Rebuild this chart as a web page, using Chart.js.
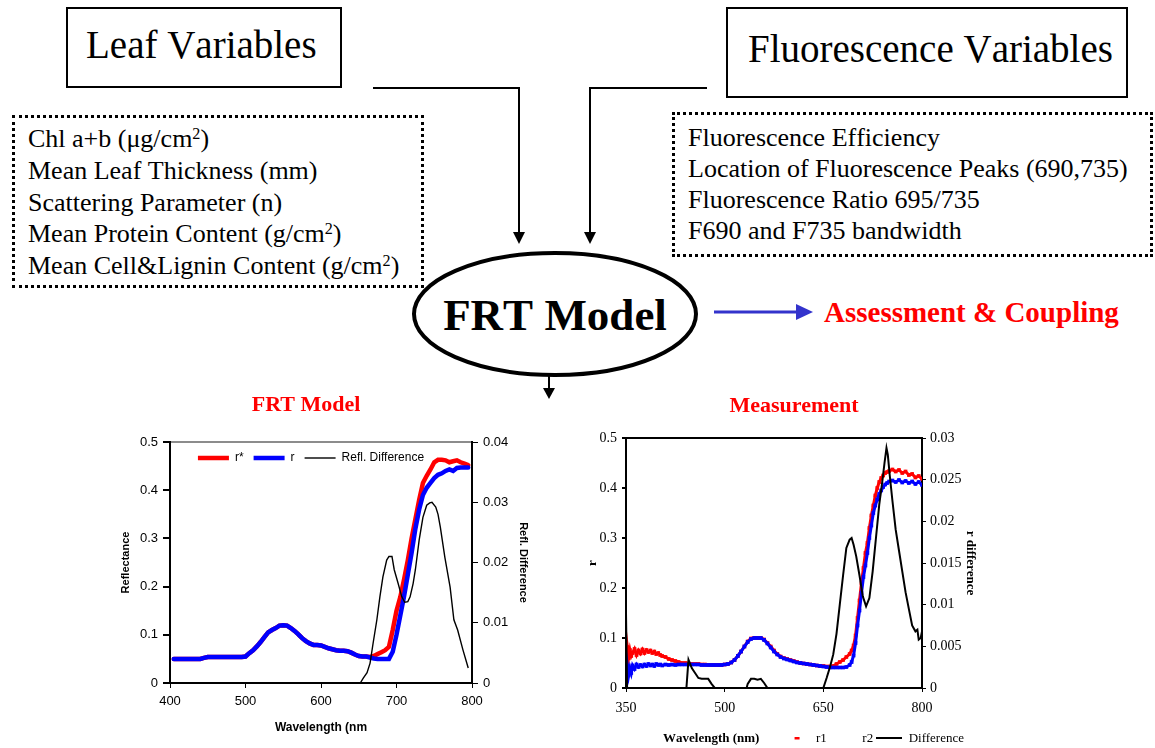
<!DOCTYPE html>
<html>
<head>
<meta charset="utf-8">
<script src="https://cdn.jsdelivr.net/npm/chart.js@4.4.1/dist/chart.umd.min.js"></script>
<style>
  html, body { margin: 0; padding: 0; background: #fff; overflow: hidden; }
  #page { position: relative; width: 1155px; height: 748px; background: #fff; }
  .t { position: absolute; white-space: nowrap; line-height: 1; font-family: "Liberation Serif", "Times New Roman", serif; font-kerning: none; color: #000; }
  .box { position: absolute; box-sizing: border-box; border: 2px solid #000; }
  .dots { position: absolute; box-sizing: border-box; border: 3px dotted #000; }
  .list { position: absolute; white-space: nowrap; font-family: "Liberation Serif", serif; font-size: 26px; font-kerning: none; }
  .list sup { font-size: 0.62em; vertical-align: 0.5em; line-height: 0; }
  .chartbox { position: absolute; }
  svg { position: absolute; left: 0; top: 0; }
</style>
</head>
<body>
<div id="page">
  <svg width="1155" height="748">
    <!-- arrows from the two variable boxes into the model -->
    <polyline points="373,88 519,88 519,234" fill="none" stroke="#000" stroke-width="2"/>
    <polygon points="513,232 525,232 519,244" fill="#000"/>
    <polyline points="707,88 590,88 590,234" fill="none" stroke="#000" stroke-width="2"/>
    <polygon points="584,232 596,232 590,244" fill="#000"/>
    <ellipse cx="555" cy="314" rx="141" ry="61" fill="none" stroke="#000" stroke-width="4"/>
    <line x1="714" y1="312" x2="798" y2="312" stroke="#3333cc" stroke-width="3"/>
    <polygon points="796,304 813,312 796,320" fill="#3333cc"/>
    <line x1="549" y1="376" x2="549" y2="390" stroke="#000" stroke-width="2"/>
    <polygon points="543,388 555,388 549,399" fill="#000"/>
  </svg>

  <div class="box" style="left:66px;top:7px;width:276px;height:81px"></div>
  <div class="t" style="left:86px;top:25.3px;font-size:39px">Leaf Variables</div>
  <div class="box" style="left:726px;top:7px;width:402px;height:91px"></div>
  <div class="t" style="left:748px;top:29.3px;font-size:39px">Fluorescence Variables</div>

  <div class="dots" style="left:12px;top:115px;width:412px;height:173px"></div>
  <div class="list" style="left:28px;top:123px;line-height:31.75px">
    Chl a+b (μg/cm<sup>2</sup>)<br>
    Mean Leaf Thickness (mm)<br>
    Scattering Parameter (n)<br>
    Mean Protein Content (g/cm<sup>2</sup>)<br>
    Mean Cell&amp;Lignin Content (g/cm<sup>2</sup>)
  </div>

  <div class="dots" style="left:672px;top:112px;width:481px;height:145px"></div>
  <div class="list" style="left:688px;top:122px;line-height:31px">
    Fluorescence Efficiency<br>
    Location of Fluorescence Peaks (690,735)<br>
    Fluorescence Ratio 695/735<br>
    F690 and F735 bandwidth
  </div>

  <div class="t" style="left:413px;width:284px;text-align:center;top:293.3px;font-size:45px;font-weight:bold">FRT Model</div>
  <div class="t" style="left:824px;top:297.7px;font-size:29px;font-weight:bold;color:#ff0000">Assessment &amp; Coupling</div>

  <div class="chartbox" style="left:82px;top:390px;width:448px;height:390px"><canvas id="frtChart"></canvas></div>
  <div class="chartbox" style="left:585px;top:390px;width:418px;height:365px"><canvas id="measChart"></canvas></div>
  <div class="t" style="left:663px;top:731px;font-size:13px;font-weight:bold">Wavelength (nm)</div>
</div>

<script>
// ---- FRT Model panel ----
const frtXTicks = [400, 500, 600, 700, 800];
const frtYTicks = [0, 0.1, 0.2, 0.3, 0.4, 0.5];
const frtY1Ticks = [0, 0.01, 0.02, 0.03, 0.04];

const frtWl = [405, 410, 415, 420, 425, 430, 435, 440, 445, 450, 455, 460, 465, 470, 475, 480, 485, 490, 495, 500,
  505, 510, 515, 520, 525, 530, 535, 540, 545, 550, 555, 560, 565, 570, 575, 580, 585, 590, 595, 600,
  605, 610, 615, 620, 625, 630, 635, 640, 645, 650, 655, 660, 665, 670, 675, 680, 685, 690, 695, 700,
  705, 710, 715, 720, 725, 730, 735, 740, 745, 750, 755, 760, 765, 770, 775, 780, 785, 790, 795];
const frtR = [0.05, 0.05, 0.05, 0.05, 0.05, 0.05, 0.05, 0.05, 0.052, 0.054, 0.054, 0.054, 0.054, 0.054, 0.054, 0.054, 0.054, 0.054, 0.054, 0.055,
  0.062, 0.068, 0.076, 0.085, 0.095, 0.105, 0.11, 0.114, 0.119, 0.12, 0.119, 0.114, 0.108, 0.101, 0.093, 0.087, 0.082, 0.079, 0.079, 0.078,
  0.075, 0.072, 0.07, 0.068, 0.067, 0.067, 0.066, 0.063, 0.059, 0.056, 0.055, 0.055, 0.053, 0.051, 0.05, 0.05, 0.05, 0.05, 0.065, 0.1,
  0.14, 0.18, 0.225, 0.27, 0.32, 0.36, 0.39, 0.405, 0.415, 0.425, 0.432, 0.435, 0.44, 0.443, 0.44, 0.446, 0.447, 0.447, 0.447];
const frtRStar = [0.05, 0.05, 0.05, 0.05, 0.05, 0.05, 0.05, 0.05, 0.052, 0.054, 0.054, 0.054, 0.054, 0.054, 0.054, 0.054, 0.054, 0.054, 0.054, 0.055,
  0.062, 0.068, 0.076, 0.085, 0.095, 0.105, 0.11, 0.114, 0.119, 0.12, 0.119, 0.114, 0.108, 0.101, 0.093, 0.087, 0.082, 0.079, 0.079, 0.078,
  0.075, 0.072, 0.07, 0.068, 0.067, 0.067, 0.066, 0.063, 0.059, 0.056, 0.055, 0.055, 0.054, 0.056, 0.06, 0.064, 0.068, 0.075, 0.11, 0.15,
  0.178, 0.215, 0.255, 0.3, 0.34, 0.38, 0.415, 0.43, 0.443, 0.458, 0.463, 0.463, 0.462, 0.458, 0.46, 0.462, 0.458, 0.455, 0.452];
const frtDiffWl = [652, 656, 661, 665, 669, 674, 678, 682, 687, 690, 694, 697, 702, 707, 711, 715, 718, 722, 725, 730,
  735, 740, 744, 747, 752, 755, 758, 764, 771, 776, 781, 788, 795];
const frtDiff = [0, 0.0008, 0.0017, 0.0033, 0.0066, 0.0105, 0.0143, 0.0176, 0.0204, 0.021, 0.021, 0.0188, 0.0166, 0.0143, 0.0134, 0.0135, 0.0143, 0.0165, 0.0188, 0.0237,
  0.0275, 0.0295, 0.0299, 0.03, 0.0292, 0.028, 0.0259, 0.0209, 0.0159, 0.0105, 0.0088, 0.0055, 0.0025];

// ---- Measurement panel ----
const measXTicks = [350, 500, 650, 800];
const measYTicks = [0, 0.1, 0.2, 0.3, 0.4, 0.5];
const measY1Ticks = [0, 0.005, 0.01, 0.015, 0.02, 0.025, 0.03];

const measWl = [350, 352, 354, 356, 358,
  360, 363, 366, 369, 372, 375, 378, 381, 384, 387, 390, 393, 396, 399, 402,
  405, 410, 415, 420, 425, 430, 435, 440, 445, 450, 455, 460, 465, 470, 475, 480, 485, 490, 495, 500,
  505, 510, 515, 520, 525, 530, 535, 540, 545, 550, 555, 560, 565, 570, 575, 580, 585, 590, 595, 600,
  605, 610, 615, 620, 625, 630, 635, 640, 645, 650, 655, 660, 665, 670, 675, 680, 685, 690,
  693, 696, 699, 702, 705, 708, 711, 714, 717, 720, 723, 726, 729, 732, 735, 738, 741, 744, 747, 750,
  755, 760, 765, 770, 775, 780, 785, 790, 795, 800];
const measR1 = [0.05, 0.082, 0.06, 0.076, 0.064,
  0.07, 0.078, 0.066, 0.075, 0.069, 0.077, 0.07, 0.076, 0.072, 0.075, 0.07, 0.073, 0.068, 0.07, 0.066,
  0.064, 0.062, 0.058, 0.056, 0.054, 0.052, 0.05, 0.05, 0.049, 0.048, 0.048, 0.048, 0.047, 0.047, 0.046, 0.046, 0.046, 0.046, 0.046, 0.047,
  0.048, 0.051, 0.056, 0.064, 0.073, 0.083, 0.093, 0.099, 0.1, 0.1, 0.1, 0.097, 0.09, 0.083, 0.075, 0.068, 0.063, 0.06, 0.058, 0.056,
  0.054, 0.052, 0.05, 0.049, 0.048, 0.047, 0.046, 0.045, 0.044, 0.044, 0.043, 0.043, 0.044, 0.048, 0.052, 0.056, 0.062, 0.068,
  0.075, 0.085, 0.105, 0.14, 0.175, 0.21, 0.24, 0.27, 0.29, 0.32, 0.345, 0.365, 0.385, 0.4, 0.412, 0.42, 0.425, 0.43, 0.432, 0.434,
  0.437, 0.433, 0.436, 0.43, 0.433, 0.426, 0.428, 0.421, 0.424, 0.418];
const measR2 = [0.015, 0.045, 0.025, 0.04, 0.03,
  0.045, 0.038, 0.047, 0.042, 0.046, 0.043, 0.047, 0.044, 0.048, 0.045, 0.047, 0.044, 0.048, 0.046, 0.047,
  0.045, 0.047, 0.046, 0.047, 0.046, 0.047, 0.047, 0.047, 0.047, 0.047, 0.047, 0.047, 0.046, 0.046, 0.046, 0.046, 0.046, 0.046, 0.046, 0.047,
  0.048, 0.051, 0.056, 0.064, 0.073, 0.083, 0.092, 0.098, 0.1, 0.1, 0.1, 0.096, 0.089, 0.081, 0.073, 0.067, 0.062, 0.059, 0.057, 0.055,
  0.053, 0.051, 0.05, 0.049, 0.048, 0.047, 0.046, 0.045, 0.044, 0.043, 0.042, 0.041, 0.041, 0.041, 0.041, 0.041, 0.042, 0.046,
  0.052, 0.065, 0.09, 0.125, 0.155, 0.19, 0.222, 0.245, 0.27, 0.3, 0.325, 0.35, 0.365, 0.377, 0.388, 0.395, 0.402, 0.407, 0.41, 0.413,
  0.415, 0.412, 0.416, 0.411, 0.414, 0.41, 0.413, 0.408, 0.412, 0.406];
// values under 0 fall outside the axis and are clipped, as in the original plot
const measDiffWl = [350, 352, 355, 440, 445, 450, 455, 460, 465, 470, 475, 480, 485, 490,
  530, 535, 540, 545, 550, 555, 560, 565, 570,
  645, 650, 655, 660, 665, 670, 675, 680, 685, 690, 693, 696,
  700, 705, 710, 715, 720, 725, 730, 735, 740, 743, 746, 748, 751,
  755, 760, 765, 770, 775, 780, 785, 790, 793, 795, 798, 800];
const measDiff = [0.009, -0.002, -0.003, -0.002, 0.0034, 0.0024, 0.0018, 0.0012, 0.0011, 0.0011, 0.0011, 0.0005, 0, -0.002,
  -0.001, 0.0005, 0.0011, 0.0011, 0.001, 0.0011, 0.0006, 0, -0.001,
  -0.001, 0, 0.0012, 0.0025, 0.004, 0.0065, 0.01, 0.0135, 0.0168, 0.0178, 0.018, 0.0172,
  0.0158, 0.0135, 0.011, 0.0098, 0.0108, 0.014, 0.018, 0.022, 0.025, 0.027, 0.0288, 0.028, 0.0255,
  0.0225, 0.019, 0.0165, 0.014, 0.0115, 0.0095, 0.0075, 0.0068, 0.007, 0.0058, 0.006, 0.0068];

function pts(xs, ys) {
  return xs.map((x, i) => ({ x: x, y: ys[i] }));
}
function fixTicks(list) {
  return function (scale) { scale.ticks = list.map(v => ({ value: v })); };
}
const fmt = v => String(+Number(v).toFixed(4));

// small legend swatch drawn on a canvas
function swatch(w, h, draw) {
  const c = document.createElement("canvas");
  c.width = w; c.height = h;
  if (draw) draw(c.getContext("2d"));
  return c;
}

// moves the legend box by dx/dy after layout
const nudgeLegend = {
  id: "nudgeLegend",
  afterLayout(chart, args, opts) {
    const lg = chart.legend;
    if (!lg) return;
    lg.left += opts.dx || 0; lg.right += opts.dx || 0;
    lg.top += opts.dy || 0; lg.bottom += opts.dy || 0;
  }
};

Chart.defaults.color = "#000";

/* ===== FRT Model chart ===== */
const sans = "'Liberation Sans', Arial, sans-serif";
new Chart(document.getElementById("frtChart"), {
  type: "line",
  plugins: [nudgeLegend],
  data: {
    datasets: [
      { label: "r*", data: pts(frtWl, frtRStar), borderColor: "#ff0000", backgroundColor: "#ff0000",
        borderWidth: 4.5, borderCapStyle: "round", pointRadius: 0, order: 2, yAxisID: "y" },
      { label: "r", data: pts(frtWl, frtR), borderColor: "#0000ff", backgroundColor: "#0000ff",
        borderWidth: 4.5, borderCapStyle: "round", pointRadius: 0, order: 1, yAxisID: "y" },
      { label: "Refl. Difference", data: pts(frtDiffWl, frtDiff), borderColor: "#000", backgroundColor: "#000",
        borderWidth: 1.4, pointRadius: 0, order: 0, yAxisID: "y1" }
    ]
  },
  options: {
    animation: false,
    responsive: true,
    maintainAspectRatio: false,
    layout: { padding: 0 },
    plugins: {
      tooltip: { enabled: false },
      // legend sits in the bottom slot (below the visible page) and is lifted into the plot
      nudgeLegend: { dx: 5, dy: -306 },
      title: {
        display: true, text: "FRT Model", color: "#ff0000",
        font: { family: "'Liberation Serif', serif", size: 22, weight: "bold", lineHeight: 1.2 },
        padding: { top: 2.2, bottom: 23.4 }
      },
      legend: {
        position: "bottom", align: "center",
        labels: {
          usePointStyle: true, pointStyle: "line", pointStyleWidth: 31,
          padding: 10, color: "#000", font: { family: sans, size: 12 },
          sort: (a, b) => a.datasetIndex - b.datasetIndex
        }
      }
    },
    scales: {
      x: {
        type: "linear", min: 400, max: 800,
        afterBuildTicks: fixTicks(frtXTicks),
        afterFit: s => { s.height = 65; },
        ticks: { font: { family: sans, size: 13 }, color: "#000", padding: 6, maxRotation: 0 },
        grid: { drawOnChartArea: false, tickColor: "#000", tickLength: 5 },
        border: { color: "#000", width: 2 },
        title: { display: true, text: "Wavelength (nm", color: "#000",
          font: { family: sans, size: 12, weight: "bold" }, padding: { bottom: 12.8 } }
      },
      y: {
        position: "left", min: 0, max: 0.5,
        afterBuildTicks: fixTicks(frtYTicks),
        afterFit: s => { s.width = 88; },
        ticks: { font: { family: sans, size: 13 }, color: "#000", padding: 5, callback: fmt },
        grid: { color: c => (c.tick && c.tick.value === 0.5 ? "#8c8c8c" : "rgba(0,0,0,0)"),
          lineWidth: 2, tickColor: "#000", tickLength: 7 },
        border: { color: "#000", width: 2 },
        title: { display: true, text: "Reflectance", color: "#000",
          font: { family: sans, size: 11, weight: "bold" }, padding: { top: 37.4 } }
      },
      y1: {
        position: "right", min: 0, max: 0.04,
        afterBuildTicks: fixTicks(frtY1Ticks),
        afterFit: s => { s.width = 58; },
        ticks: { font: { family: sans, size: 13 }, color: "#000", padding: 5, callback: fmt },
        grid: { drawOnChartArea: false, tickColor: "#000", tickLength: 6 },
        border: { color: "#000", width: 2 },
        title: { display: true, text: "Refl. Difference", color: "#000",
          font: { family: sans, size: 11, weight: "bold" }, padding: { top: 0.4 } }
      }
    }
  }
});

/* ===== Measurement chart ===== */
const serif = "'Liberation Serif', 'Times New Roman', serif";
const measSwatches = [
  swatch(26, 4, g => { g.fillStyle = "#ff0000"; g.fillRect(11, 0, 5, 3); }),
  swatch(26, 4, null),
  swatch(26, 3, g => { g.fillStyle = "#000"; g.fillRect(0, 0, 26, 2); })
];
new Chart(document.getElementById("measChart"), {
  type: "line",
  plugins: [nudgeLegend],
  data: {
    datasets: [
      { label: "r1", data: pts(measWl, measR1), borderColor: "#ff0000", backgroundColor: "#ff0000",
        borderWidth: 3, pointStyle: "rect", pointRadius: 2.6, pointBorderWidth: 0, order: 2, yAxisID: "y" },
      { label: "r2", data: pts(measWl, measR2), borderColor: "#0000ff", backgroundColor: "#0000ff",
        borderWidth: 3, pointStyle: "rect", pointRadius: 2.6, pointBorderWidth: 0, order: 1, yAxisID: "y" },
      { label: "Difference", data: pts(measDiffWl, measDiff), borderColor: "#000", backgroundColor: "#000",
        borderWidth: 2, pointRadius: 0, order: 0, yAxisID: "y1" }
    ]
  },
  options: {
    animation: false,
    responsive: true,
    maintainAspectRatio: false,
    layout: { padding: 0 },
    plugins: {
      tooltip: { enabled: false },
      nudgeLegend: { dx: -36, dy: 0 },
      title: {
        display: true, text: "Measurement", color: "#ff0000",
        font: { family: serif, size: 22, weight: "bold", lineHeight: 1.2 },
        padding: { top: 3.2, bottom: 18.4 }
      },
      legend: {
        position: "bottom", align: "end",
        labels: {
          usePointStyle: true, pointStyleWidth: 26, padding: 3, color: "#000",
          font: { family: serif, size: 13 },
          generateLabels: chart => chart.data.datasets.map((ds, i) => ({
            text: ds.label, datasetIndex: i, pointStyle: measSwatches[i],
            fillStyle: "rgba(0,0,0,0)", strokeStyle: "rgba(0,0,0,0)", lineWidth: 0,
            hidden: false, fontColor: "#000"
          }))
        }
      }
    },
    scales: {
      x: {
        type: "linear", min: 350, max: 800,
        afterBuildTicks: fixTicks(measXTicks),
        afterFit: s => { s.height = 41; },
        ticks: { font: { family: serif, size: 14 }, color: "#000", padding: 8, maxRotation: 0 },
        grid: { drawOnChartArea: false, tickColor: "#000", tickLength: 4 },
        border: { color: "#000", width: 2 }
      },
      y: {
        position: "left", min: 0, max: 0.5,
        afterBuildTicks: fixTicks(measYTicks),
        afterFit: s => { s.width = 41; },
        ticks: { font: { family: serif, size: 14 }, color: "#000", padding: 5, callback: fmt },
        grid: { color: c => (c.tick && c.tick.value === 0.5 ? "#000" : "rgba(0,0,0,0)"),
          lineWidth: 2, tickColor: "#000", tickLength: 4 },
        border: { color: "#000", width: 2 },
        title: { display: true, text: "r", color: "#000",
          font: { family: serif, size: 13, weight: "bold" }, padding: { top: 0 } }
      },
      y1: {
        position: "right", min: 0, max: 0.03,
        afterBuildTicks: fixTicks(measY1Ticks),
        afterFit: s => { s.width = 81; },
        ticks: { font: { family: serif, size: 14 }, color: "#000", padding: 4, callback: fmt },
        grid: { drawOnChartArea: false, tickColor: "#000", tickLength: 4 },
        border: { color: "#000", width: 2 },
        title: { display: true, text: "r difference", color: "#000",
          font: { family: serif, size: 13, weight: "bold" }, padding: { top: 25.2 } }
      }
    }
  }
});
</script>
</body>
</html>
